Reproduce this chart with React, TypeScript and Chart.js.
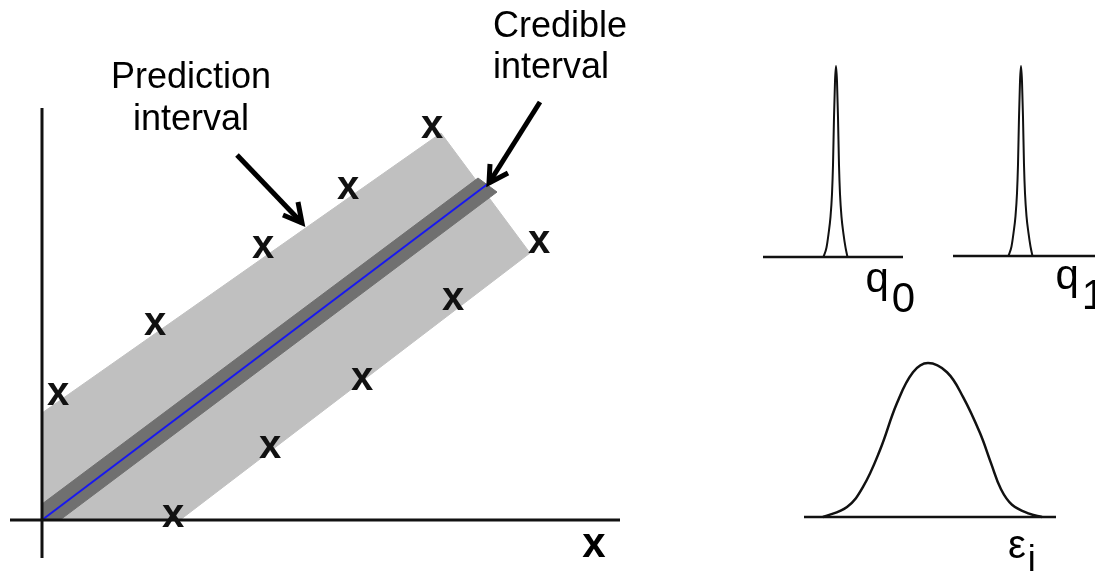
import React, { useEffect, useRef } from "react";
import { Chart, registerables } from "chart.js";

Chart.register(...registerables);

// ---- Regression panel (data units) ----
// Observed points
const obsX = [0.4, 2.825, 5.525, 7.65, 9.75, 12.425, 10.275, 8.0, 5.7, 3.275];
const obsY = [3.125, 4.875, 6.8, 8.275, 9.81, 6.925, 5.5, 3.5, 1.8, 0.075];

// Fitted regression line
const fitX = [0, 11.175];
const fitY = [0, 8.425];

// Prediction interval band outline
const predBandX = [0, 0, 9.975, 12.2, 3.45, 0];
const predBandY = [0, 2.675, 9.675, 6.675, 0, 0];

// Credible interval band outline
const credBandX = [0, 0, 10.9, 11.375, 0.45, 0];
const credBandY = [0, 0.4, 8.55, 8.2, 0, 0];

// Axis lines
const axisHX = [-0.8, 14.45];
const axisHY = [0, 0];
const axisVX = [0, 0];
const axisVY = [-0.95, 10.3];

// Annotation arrows (shaft and head)
const predArrowX = [4.875, 6.5];
const predArrowY = [9.125, 7.425];
const predHeadX = [6.025, 6.5, 6.4];
const predHeadY = [7.625, 7.425, 7.95];
const credArrowX = [12.45, 11.175];
const credArrowY = [10.45, 8.425];
const credHeadX = [11.2, 11.175, 11.65];
const credHeadY = [8.9, 8.425, 8.675];

// ---- Posterior / error distributions ----
const q0X = [-1.25, -0.95, -0.75, -0.55, -0.4, -0.3, -0.2, -0.1, 0, 0.1, 0.2, 0.3, 0.4, 0.55, 0.75, 0.95, 1.15];
const q0Y = [0, 0.05, 0.12, 0.21, 0.33, 0.48, 0.73, 0.92, 1.0, 0.92, 0.73, 0.48, 0.33, 0.21, 0.12, 0.05, 0];
const q0Base = [-7.3, 6.7];

const q1X = [-1.25, -0.95, -0.75, -0.55, -0.4, -0.3, -0.2, -0.1, 0, 0.1, 0.2, 0.3, 0.4, 0.55, 0.75, 0.95, 1.15];
const q1Y = [0, 0.05, 0.12, 0.21, 0.33, 0.48, 0.73, 0.92, 1.0, 0.92, 0.73, 0.48, 0.33, 0.21, 0.12, 0.05, 0];
const q1Base = [-6.8, 7.4];

const epsX = [-10.5, -8.1, -6.5, -4.8, -3.1, -1.5, 0, 1.9, 3.5, 5.2, 6.3, 7.3, 8.4, 10.2, 11.4];
const epsY = [0, 0.065, 0.195, 0.435, 0.74, 0.94, 1.0, 0.94, 0.78, 0.545, 0.35, 0.18, 0.08, 0.02, 0];
const epsBase = [-12.4, 12.8];

const FONT = '"Liberation Sans", Arial, Helvetica, sans-serif';
const INK = "#111111";

const pts = (xs: number[], ys: number[]) => xs.map((x, i) => ({ x, y: ys[i] }));

// Draws each observation as a bold "x" glyph at its plotted position
const obsMarkers = {
  id: "obsMarkers",
  afterDatasetsDraw(chart: any) {
    const { ctx } = chart;
    chart.data.datasets.forEach((ds: any, i: number) => {
      if (ds.label !== "Observations") return;
      const meta = chart.getDatasetMeta(i);
      const size = 40;
      ctx.save();
      ctx.font = `bold ${size}px ${FONT}`;
      ctx.fillStyle = INK;
      ctx.textAlign = "center";
      ctx.textBaseline = "alphabetic";
      meta.data.forEach((el: any) => {
        ctx.fillText("x", el.x, el.y + size * 0.26);
      });
      ctx.restore();
    });
  },
};

const baseOptions = (xMin: number, xMax: number, yMin: number, yMax: number) => ({
  animation: false as const,
  responsive: false,
  devicePixelRatio: 1,
  events: [] as any[],
  layout: { padding: 0 },
  plugins: { legend: { display: false }, tooltip: { enabled: false } },
  scales: {
    x: { type: "linear" as const, min: xMin, max: xMax, display: false },
    y: { type: "linear" as const, min: yMin, max: yMax, display: false },
  },
});

const lineDs = (label: string, data: any[], color: string, width: number, order: number, extra: any = {}) => ({
  label,
  data,
  showLine: true,
  borderColor: color,
  borderWidth: width,
  pointRadius: 0,
  order,
  ...extra,
});

function RegressionPanel() {
  const ref = useRef<HTMLCanvasElement>(null);
  useEffect(() => {
    if (!ref.current) return;
    const chart = new Chart(ref.current, {
      type: "scatter",
      data: {
        datasets: [
          { label: "Observations", data: pts(obsX, obsY), pointRadius: 0, showLine: false, order: 0 },
          lineDs("Prediction arrow", pts(predArrowX, predArrowY), "#000", 5, 1, { borderCapStyle: "butt" }),
          lineDs("Prediction arrow head", pts(predHeadX, predHeadY), "#000", 5, 1, { borderJoinStyle: "miter" }),
          lineDs("Credible arrow", pts(credArrowX, credArrowY), "#000", 5, 1, { borderCapStyle: "butt" }),
          lineDs("Credible arrow head", pts(credHeadX, credHeadY), "#000", 5, 1, { borderJoinStyle: "miter" }),
          lineDs("Axis x", pts(axisHX, axisHY), INK, 3, 2),
          lineDs("Axis y", pts(axisVX, axisVY), INK, 3, 2),
          lineDs("Fit", pts(fitX, fitY), "#1818f0", 2, 3),
          lineDs("Credible interval", pts(credBandX, credBandY), "#707070", 1, 4, {
            fill: "shape",
            backgroundColor: "#707070",
          }),
          lineDs("Prediction interval", pts(predBandX, predBandY), "#c0c0c0", 1, 5, {
            fill: "shape",
            backgroundColor: "#c0c0c0",
          }),
        ],
      },
      options: baseOptions(-1.05, 14.95, -1.4, 13) as any,
      plugins: [obsMarkers],
    });
    return () => chart.destroy();
  }, []);
  return (
    <canvas
      ref={ref}
      width={640}
      height={576}
      style={{ position: "absolute", left: 0, top: 0, width: 640, height: 576 }}
    />
  );
}

type DistProps = {
  left: number;
  top: number;
  width: number;
  height: number;
  range: number[];
  xs: number[];
  ys: number[];
  base: number[];
  curveWidth: number;
  smooth: any;
};

function DistPanel({ left, top, width, height, range, xs, ys, base, curveWidth, smooth }: DistProps) {
  const ref = useRef<HTMLCanvasElement>(null);
  useEffect(() => {
    if (!ref.current) return;
    const chart = new Chart(ref.current, {
      type: "scatter",
      data: {
        datasets: [
          lineDs("Density", pts(xs, ys), INK, curveWidth, 0, smooth),
          lineDs("Baseline", pts(base, [0, 0]), INK, 2.5, 1),
        ],
      },
      options: baseOptions(range[0], range[1], range[2], range[3]) as any,
    });
    return () => chart.destroy();
  }, []);
  return (
    <canvas
      ref={ref}
      width={width}
      height={height}
      style={{ position: "absolute", left, top, width, height }}
    />
  );
}

const textStyle = (left: number, top: number, size: number, lh: number, extra: any = {}) => ({
  position: "absolute" as const,
  left,
  top,
  fontFamily: FONT,
  fontSize: size,
  lineHeight: `${lh}px`,
  color: "#000",
  whiteSpace: "nowrap" as const,
  ...extra,
});

export default function App() {
  return (
    <div
      style={{
        position: "absolute",
        left: 0,
        top: 0,
        width: 1095,
        height: 576,
        overflow: "hidden",
        background: "#fff",
      }}
    >
      <RegressionPanel />
      <DistPanel
        left={755}
        top={40}
        width={160}
        height={240}
        range={[-8.1, 7.9, -0.1204, 1.1361]}
        xs={q0X}
        ys={q0Y}
        base={q0Base}
        curveWidth={2}
        smooth={{ cubicInterpolationMode: "monotone" }}
      />
      <DistPanel
        left={945}
        top={40}
        width={150}
        height={240}
        range={[-7.6, 7.4, -0.1263, 1.1368]}
        xs={q1X}
        ys={q1Y}
        base={q1Base}
        curveWidth={2}
        smooth={{ cubicInterpolationMode: "monotone" }}
      />
      <DistPanel
        left={790}
        top={340}
        width={290}
        height={236}
        range={[-13.8, 15.2, -0.3831, 1.1494]}
        xs={epsX}
        ys={epsY}
        base={epsBase}
        curveWidth={2.5}
        smooth={{ tension: 0.4 }}
      />

      <div style={textStyle(91, 54.5, 36, 42, { width: 200, textAlign: "center" })}>
        Prediction
        <br />
        interval
      </div>
      <div style={textStyle(493, 4, 36, 41)}>
        Credible
        <br />
        interval
      </div>
      <div style={textStyle(544, 519, 42, 48, { width: 100, textAlign: "center", fontWeight: "bold" })}>x</div>

      <div style={textStyle(865.5, 254, 42, 48)}>
        q<span style={{ position: "relative", top: 20, marginLeft: 3 }}>0</span>
      </div>
      <div style={textStyle(1055.5, 251, 42, 48)}>
        q<span style={{ position: "relative", top: 20, marginLeft: 3 }}>1</span>
      </div>
      <div style={textStyle(1008, 521, 40, 46)}>
        ε<span style={{ position: "relative", top: 13, marginLeft: 2, fontSize: 36 }}>i</span>
      </div>
    </div>
  );
}
